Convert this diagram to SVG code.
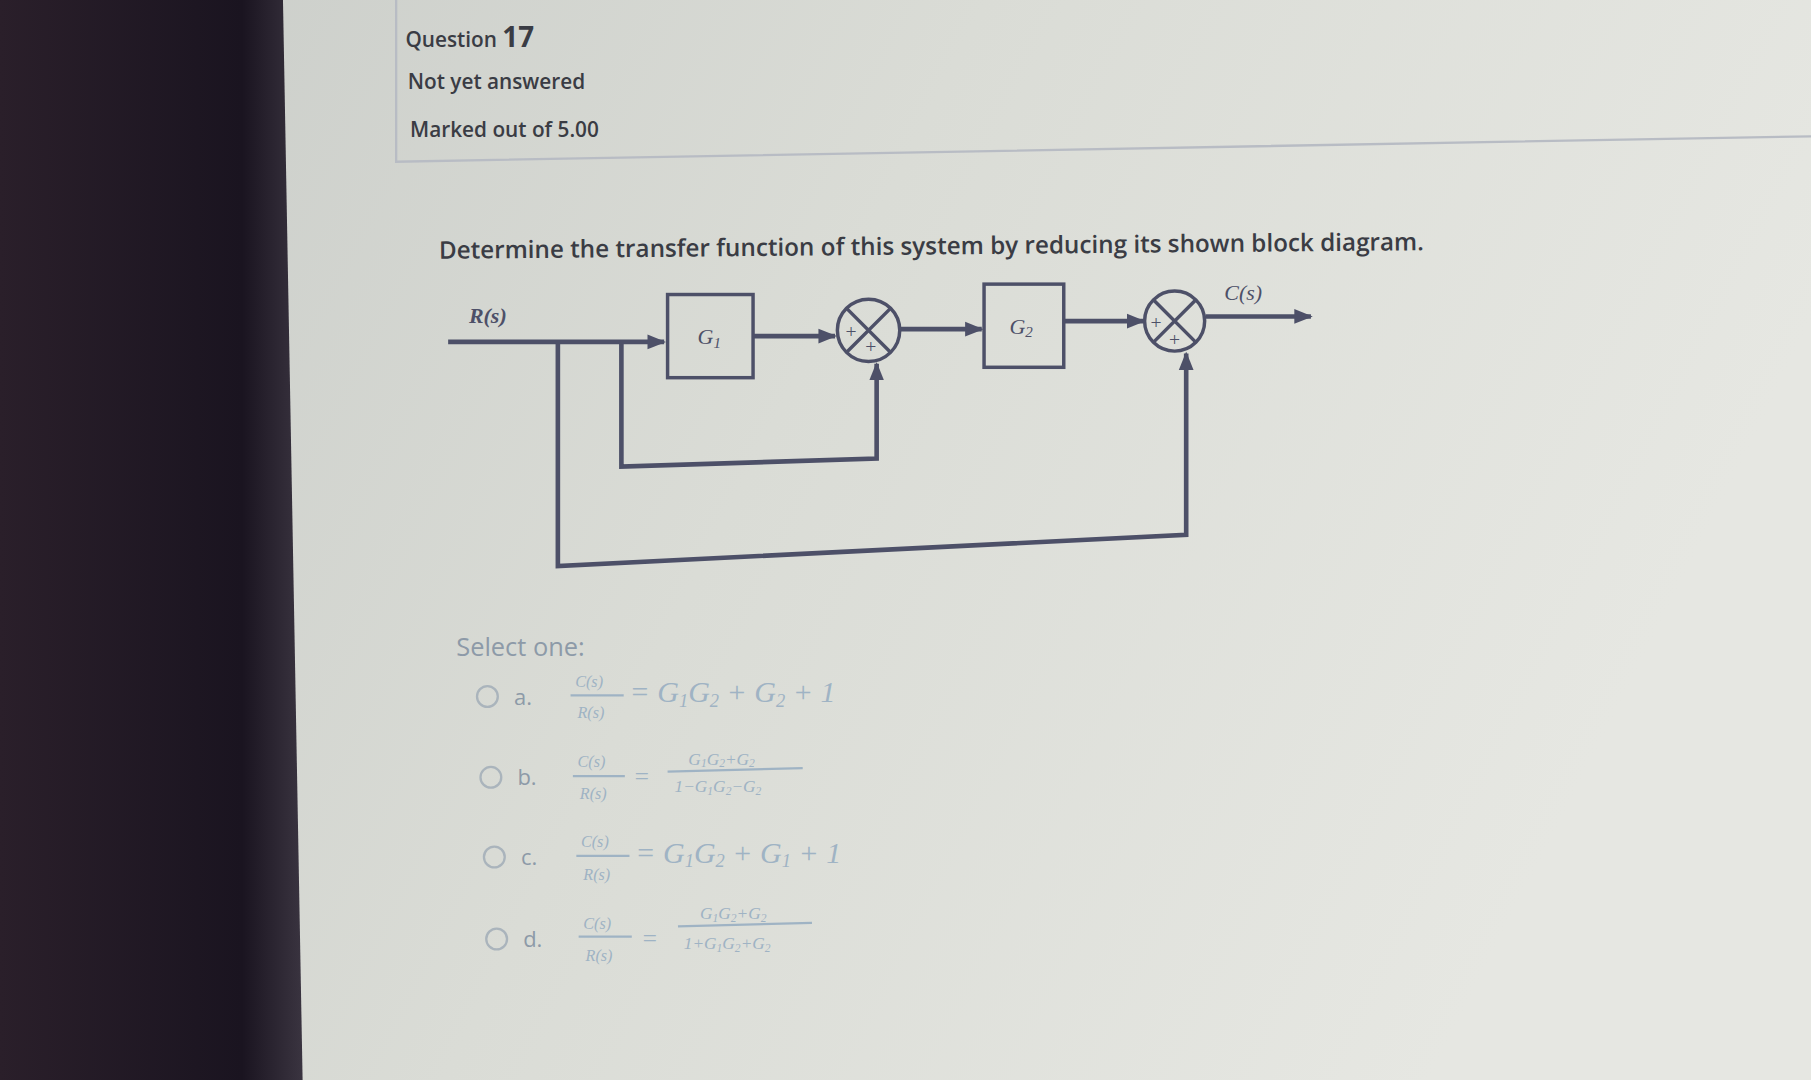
<svg xmlns="http://www.w3.org/2000/svg" width="1811" height="1080" viewBox="0 0 1811 1080">
<defs>
<linearGradient id="bg" x1="0" y1="0" x2="1" y2="0.3"><stop offset="0" stop-color="#c9ccc8"/><stop offset="0.5" stop-color="#dadcd6"/><stop offset="1" stop-color="#e6e7e2"/></linearGradient>
<linearGradient id="dk" x1="0" y1="0" x2="1" y2="0"><stop offset="0" stop-color="#2a1f2a"/><stop offset="0.8" stop-color="#1a1420"/><stop offset="1" stop-color="#3a3440"/></linearGradient>
<marker id="ah" viewBox="0 0 10 10" refX="9" refY="5" markerWidth="4" markerHeight="4" orient="auto" markerUnits="strokeWidth"><path d="M0,1 L10,5 L0,9 z" fill="#4d5068"/></marker>
</defs>
<style>
.ln{stroke:#4d5068;stroke-width:4;fill:none}
.blk{fill:none;stroke:#4d5068;stroke-width:3}
.sum{fill:none;stroke:#4d5068;stroke-width:3}
.hd{font-family:"Open Sans","Liberation Sans",sans-serif;fill:#3a3c44;font-weight:600}
.lb{font-family:"Liberation Serif",serif;font-style:italic;fill:#4d5068}
.op{font-family:"Liberation Serif",serif;font-style:italic;fill:#9fb3c4}
.ol{font-family:"Open Sans","Liberation Sans",sans-serif;fill:#8d9aa8}
.rd{fill:none;stroke:#aab4bc;stroke-width:2}
.fr{stroke:#9fb3c4;stroke-width:2}
</style>
<rect width="1811" height="1080" fill="url(#bg)"/>
<g transform="scale(1.155)">
<path d="M0,0 H245 L262,935 H0 z" fill="url(#dk)"/>
<g id="header">
<path d="M343,0 V140 L1568,118" fill="none" stroke="#b8bcc4" stroke-width="2"/>
<text x="351" y="41" class="hd" font-size="18">Question <tspan font-size="24" font-weight="bold">17</tspan></text>
<text x="353" y="77" class="hd" font-size="18">Not yet answered</text>
<text x="355" y="119" class="hd" font-size="18">Marked out of 5.00</text>
</g>
<text x="380" y="224" class="hd" font-size="21" transform="rotate(-0.5 380 224)">Determine the transfer function of this system by reducing its shown block diagram.</text>
<g id="connectors">
<path class="ln" d="M388,296 H575" marker-end="url(#ah)"/>
<path class="ln" d="M652,291 H723" marker-end="url(#ah)"/>
<path class="ln" d="M780,285 H850" marker-end="url(#ah)"/>
<path class="ln" d="M921,278 H990" marker-end="url(#ah)"/>
<path class="ln" d="M1044,274 H1135" marker-end="url(#ah)"/>
<path class="ln" d="M538,296 V404 L759,397 V315" marker-end="url(#ah)"/>
<path class="ln" d="M483,297 V490 L1027,463 V306" marker-end="url(#ah)"/>
</g>
<g id="R"><text x="406" y="280" class="lb" font-size="19" font-weight="bold">R(s)</text></g>
<g id="C"><text x="1060" y="260" class="lb" font-size="19">C(s)</text></g>
<g id="G1"><rect x="578" y="255" width="74" height="72" class="blk" fill="#dcded8"/><text x="604" y="298" class="lb" font-size="19">G<tspan font-size="13" dy="3">1</tspan></text></g>
<g id="G2"><rect x="852" y="246" width="69" height="72" class="blk"/><text x="874" y="289" class="lb" font-size="19">G<tspan font-size="13" dy="3">2</tspan></text></g>
<g id="S1"><circle cx="752" cy="286" r="27" class="sum"/><path class="sum" d="M733,267 L771,305 M771,267 L733,305"/><text x="731" y="293" class="lb" font-size="17">+</text><text x="748" y="306" class="lb" font-size="17">+</text></g>
<g id="S2"><circle cx="1017" cy="278" r="26" class="sum"/><path class="sum" d="M999,260 L1035,296 M1035,260 L999,296"/><text x="995" y="285" class="lb" font-size="17">+</text><text x="1011" y="300" class="lb" font-size="17">+</text></g>
<text x="395" y="568" class="ol" font-size="22" fill="#6e7a88">Select one:</text>
<g id="opts">
<circle cx="422" cy="603" r="9" class="rd"/><text x="445" y="610" class="ol" font-size="19">a.</text>
<text x="498" y="595" class="op" font-size="14">C(s)</text><line x1="494" y1="602" x2="540" y2="602" class="fr"/><text x="500" y="622" class="op" font-size="14">R(s)</text>
<text x="545" y="608" class="op" font-size="26">= G<tspan font-size="16" dy="4">1</tspan><tspan dy="-4">G</tspan><tspan font-size="16" dy="4">2</tspan><tspan dy="-4"> + G</tspan><tspan font-size="16" dy="4">2</tspan><tspan dy="-4"> + 1</tspan></text>
<circle cx="425" cy="673" r="9" class="rd"/><text x="448" y="680" class="ol" font-size="19">b.</text>
<text x="500" y="664" class="op" font-size="14">C(s)</text><line x1="496" y1="672" x2="541" y2="672" class="fr"/><text x="502" y="692" class="op" font-size="14">R(s)</text>
<text x="548" y="680" class="op" font-size="22">=</text>
<text x="596" y="662" class="op" font-size="15">G<tspan font-size="10" dy="2">1</tspan><tspan dy="-2">G</tspan><tspan font-size="10" dy="2">2</tspan><tspan dy="-2">+G</tspan><tspan font-size="10" dy="2">2</tspan></text>
<line x1="578" y1="668" x2="695" y2="665" class="fr"/>
<text x="584" y="686" class="op" font-size="15">1−G<tspan font-size="10" dy="2">1</tspan><tspan dy="-2">G</tspan><tspan font-size="10" dy="2">2</tspan><tspan dy="-2">−G</tspan><tspan font-size="10" dy="2">2</tspan></text>
<circle cx="428" cy="742" r="9" class="rd"/><text x="451" y="749" class="ol" font-size="19">c.</text>
<text x="503" y="733" class="op" font-size="14">C(s)</text><line x1="499" y1="741" x2="545" y2="741" class="fr"/><text x="505" y="762" class="op" font-size="14">R(s)</text>
<text x="550" y="747" class="op" font-size="26">= G<tspan font-size="16" dy="4">1</tspan><tspan dy="-4">G</tspan><tspan font-size="16" dy="4">2</tspan><tspan dy="-4"> + G</tspan><tspan font-size="16" dy="4">1</tspan><tspan dy="-4"> + 1</tspan></text>
<circle cx="430" cy="813" r="9" class="rd"/><text x="453" y="820" class="ol" font-size="19">d.</text>
<text x="505" y="804" class="op" font-size="14">C(s)</text><line x1="501" y1="811" x2="547" y2="811" class="fr"/><text x="507" y="832" class="op" font-size="14">R(s)</text>
<text x="555" y="820" class="op" font-size="22">=</text>
<text x="606" y="796" class="op" font-size="15">G<tspan font-size="10" dy="2">1</tspan><tspan dy="-2">G</tspan><tspan font-size="10" dy="2">2</tspan><tspan dy="-2">+G</tspan><tspan font-size="10" dy="2">2</tspan></text>
<line x1="587" y1="802" x2="703" y2="799" class="fr"/>
<text x="592" y="822" class="op" font-size="15">1+G<tspan font-size="10" dy="2">1</tspan><tspan dy="-2">G</tspan><tspan font-size="10" dy="2">2</tspan><tspan dy="-2">+G</tspan><tspan font-size="10" dy="2">2</tspan></text>
</g>
</g>
</svg>
